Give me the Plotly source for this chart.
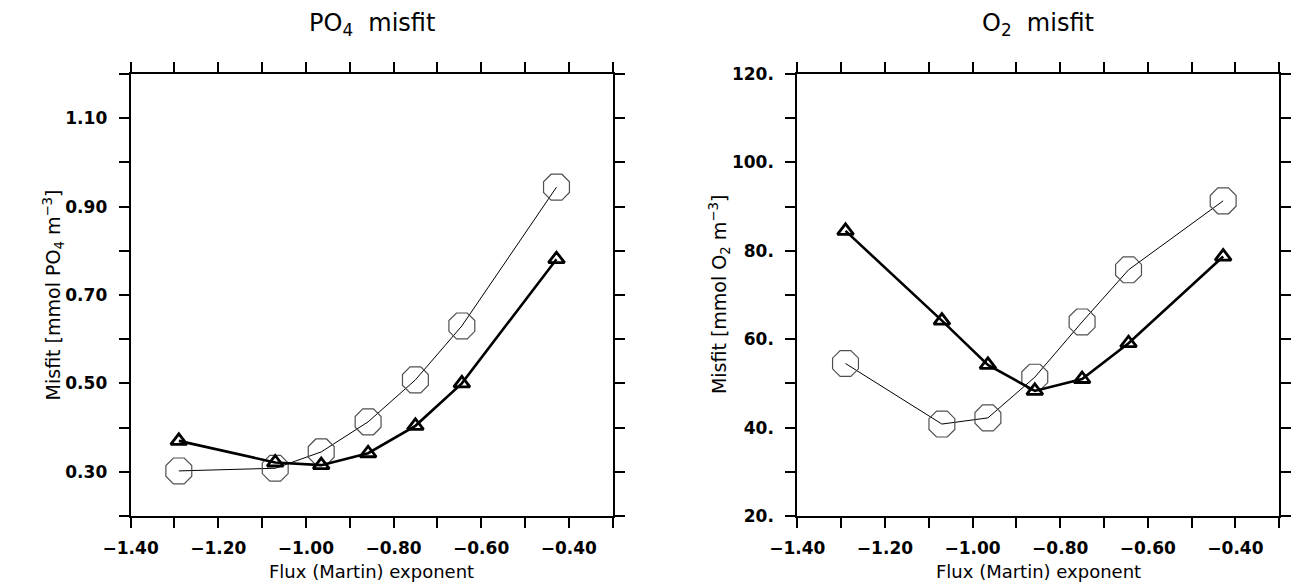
import plotly.graph_objects as go

# ---- data ----
martin_exp = [-1.29, -1.07, -0.965, -0.858, -0.75, -0.644, -0.428]
po4_octagon = [0.302, 0.308, 0.345, 0.413, 0.508, 0.630, 0.944]
po4_triangle = [0.370, 0.321, 0.315, 0.342, 0.404, 0.500, 0.781]
o2_octagon = [54.5, 40.8, 42.2, 51.4, 63.9, 75.7, 91.3]
o2_triangle = [84.5, 64.2, 54.2, 48.3, 51.0, 59.1, 78.7]

x_tickvals = [-1.4, -1.2, -1.0, -0.8, -0.6, -0.4]
x_ticktext = ["\u22121.40", "\u22121.20", "\u22121.00", "\u22120.80", "\u22120.60", "\u22120.40"]
x_minorvals = [-1.3, -1.1, -0.9, -0.7, -0.5, -0.3]
po4_tickvals = [0.3, 0.5, 0.7, 0.9, 1.1]
po4_ticktext = ["0.30", "0.50", "0.70", "0.90", "1.10"]
po4_minorvals = [0.2, 0.4, 0.6, 0.8, 1.0, 1.2]
o2_tickvals = [20, 40, 60, 80, 100, 120]
o2_ticktext = ["20.", "40.", "60.", "80.", "100.", "120."]
o2_minorvals = [30, 50, 70, 90, 110]

W, H = 1291, 584
L1, R1 = 105, 598
L2, R2 = 787, 1280
TOP, BOT = 74, 516

fig = go.Figure()

def add_series(xa, ya, oct_vals, tri_vals):
    fig.add_trace(go.Scatter(
        x=martin_exp, y=oct_vals, xaxis=xa, yaxis=ya, mode="lines+markers",
        line=dict(color="black", width=1),
        marker=dict(symbol="octagon-open", size=28, color="#505050", line=dict(width=1.2, color="#505050")),
        cliponaxis=False, showlegend=False))
    fig.add_trace(go.Scatter(
        x=martin_exp, y=tri_vals, xaxis=xa, yaxis=ya, mode="lines+markers",
        line=dict(color="black", width=2.6),
        marker=dict(symbol="triangle-up-open", size=14, color="black", line=dict(width=2.8, color="black")),
        cliponaxis=False, showlegend=False))

add_series("x", "y", po4_octagon, po4_triangle)
add_series("x2", "y2", o2_octagon, o2_triangle)

tickfont = dict(family="DejaVu Sans", size=17, color="black", weight="bold")

def axis(domain, rng, anchor, vals, text, minorvals, standoff):
    return dict(domain=domain, range=rng, anchor=anchor,
                showline=True, linewidth=2, linecolor="black", mirror="ticks",
                ticks="outside", ticklen=10, tickwidth=2, tickcolor="black",
                tickmode="array", tickvals=vals, ticktext=text, ticklabelstandoff=standoff,
                minor=dict(tickmode="array", tickvals=minorvals, ticks="outside", ticklen=10,
                           tickwidth=2, tickcolor="black", showgrid=False),
                showgrid=False, zeroline=False, tickfont=tickfont, fixedrange=True)

fig.update_layout(
    width=W, height=H,
    margin=dict(l=0, r=0, t=TOP, b=H - BOT, pad=0),
    paper_bgcolor="white", plot_bgcolor="white", showlegend=False,
    font=dict(family="DejaVu Sans", color="black"),
    xaxis=axis([L1 / W, R1 / W], [-1.4, -0.3], "y", x_tickvals, x_ticktext, x_minorvals, 6),
    yaxis=axis([0, 1], [0.2, 1.2], "x", po4_tickvals, po4_ticktext, po4_minorvals, 8),
    xaxis2=axis([L2 / W, R2 / W], [-1.4, -0.3], "y2", x_tickvals, x_ticktext, x_minorvals, 6),
    yaxis2=axis([0, 1], [20, 120], "x2", o2_tickvals, o2_ticktext, o2_minorvals, 8),
)

def py(pix):
    return (BOT - pix) / (BOT - TOP)

ann = []
for cx, title in [((L1 + R1) / 2, "PO<sub>4</sub>  misfit"), ((L2 + R2) / 2, "O<sub>2</sub>  misfit")]:
    ann.append(dict(x=cx / W, y=py(25), xref="paper", yref="paper", text=title, showarrow=False,
                    xanchor="center", yanchor="middle", font=dict(family="DejaVu Sans", size=24, color="black")))
    ann.append(dict(x=cx / W, y=py(571), xref="paper", yref="paper", text="Flux (Martin) exponent",
                    showarrow=False, xanchor="center", yanchor="middle",
                    font=dict(family="DejaVu Sans", size=18, color="black")))
for cx, title in [(26, "Misfit [mmol PO<sub>4</sub> m<sup>\u22123</sup>]"), (707, "Misfit [mmol O<sub>2</sub> m<sup>\u22123</sup>]")]:
    ann.append(dict(x=cx / W, y=0.5, xref="paper", yref="paper", text=title, showarrow=False, textangle=-90,
                    xanchor="center", yanchor="middle", font=dict(family="DejaVu Sans", size=19, color="black")))
fig.update_layout(annotations=ann)

fig.write_html("out.html")
